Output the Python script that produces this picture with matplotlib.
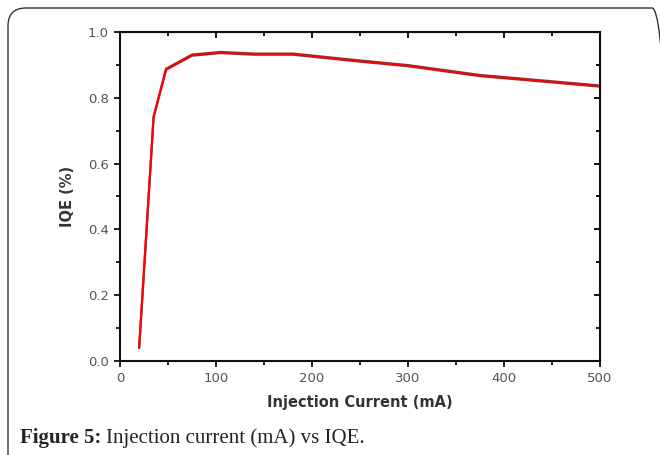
import matplotlib
matplotlib.use("Agg")
import matplotlib.pyplot as plt
from matplotlib.patches import FancyBboxPatch
from matplotlib.ticker import MultipleLocator
import matplotlib.transforms as mtransforms

# data
current_ma = [20, 35, 48, 75, 105, 140, 180, 250, 300, 375, 500]
iqe = [0.04, 0.74, 0.885, 0.928, 0.936, 0.931, 0.931, 0.91, 0.896, 0.866, 0.834]
x_ticks = [0, 100, 200, 300, 400, 500]
y_ticks = [0.0, 0.2, 0.4, 0.6, 0.8, 1.0]

plt.rcParams['font.family'] = ['DejaVu Sans']

fig = plt.figure(figsize=(6.6, 4.55), dpi=100)
W, H = 660, 455

# rounded frame around the figure panel (right and bottom run off the image)
# drawn in inches so the corners stay circular
frame = FancyBboxPatch((0.08, -0.3), 6.62, 4.77,
                       boxstyle="round,pad=0,rounding_size=0.18",
                       transform=fig.dpi_scale_trans, fill=False,
                       edgecolor='#333333', linewidth=1.0, clip_on=False)
fig.patches.append(frame)

ax = fig.add_axes([120 / W, (H - 361) / H, 480 / W, 329 / H])

# dark shadow line then red line slightly offset
shadow = ax.transData + mtransforms.ScaledTranslation(0, 0.8 / 72, fig.dpi_scale_trans)
ax.plot(current_ma, iqe, color='#222222', linewidth=1.6, alpha=0.8, transform=shadow)
ax.plot(current_ma, iqe, color='#ff0000', linewidth=1.6)

ax.set_xlim(0, 500)
ax.set_ylim(0, 1.0)
ax.set_xticks(x_ticks)
ax.set_yticks(y_ticks)
ax.set_yticklabels([f"{v:.1f}" for v in y_ticks])
ax.xaxis.set_minor_locator(MultipleLocator(50))
ax.yaxis.set_minor_locator(MultipleLocator(0.1))

for s in ax.spines.values():
    s.set_linewidth(1.5)
    s.set_color('#111111')

ax.tick_params(which='both', direction='out', width=1.3, colors='#111111',
               labelcolor='#555555', labelsize=9.5)
ax.tick_params(which='major', length=4.5)
ax.tick_params(which='minor', length=3)

# mirrored ticks pointing inward on top and right
top = ax.secondary_xaxis('top')
top.set_xticks(x_ticks)
top.xaxis.set_minor_locator(MultipleLocator(50))
top.tick_params(which='both', direction='in', width=1.3, labeltop=False)
top.tick_params(which='major', length=4.5)
top.tick_params(which='minor', length=3)
right = ax.secondary_yaxis('right')
right.set_yticks(y_ticks)
right.yaxis.set_minor_locator(MultipleLocator(0.1))
right.tick_params(which='both', direction='in', width=1.3, labelright=False)
right.tick_params(which='major', length=4.5)
right.tick_params(which='minor', length=3)

ax.set_xlabel('Injection Current (mA)', fontsize=10.5, fontweight='bold',
              color='#333333', labelpad=7)
ax.set_ylabel('IQE (%)', fontsize=10.5, fontweight='bold', color='#333333',
              labelpad=9)

# caption: bold lead-in followed by regular text
cap_y = 1 - 438 / H
lead = fig.text(20 / W, cap_y, 'Figure 5:', family='Liberation Serif',
                fontweight='bold', fontsize=15, va='center', ha='left',
                color='#222222')
fig.canvas.draw()
bb = lead.get_window_extent()
fig.text((bb.x1 + 5) / W, cap_y, 'Injection current (mA) vs IQE.',
         family='Liberation Serif', fontsize=15, va='center', ha='left',
         color='#222222')

fig.savefig('out.png', dpi=100)
